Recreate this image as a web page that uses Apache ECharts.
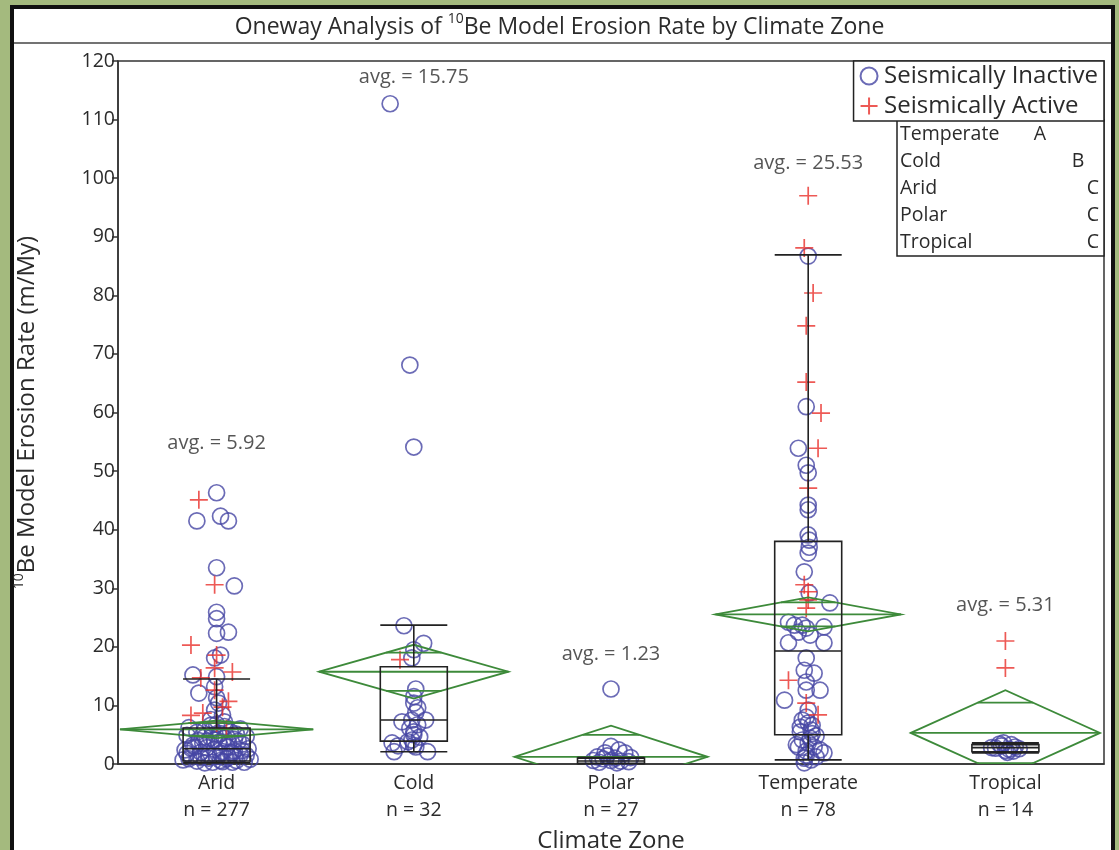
<!DOCTYPE html>
<html>
<head>
<meta charset="utf-8">
<script src="https://cdn.jsdelivr.net/npm/echarts@6/dist/echarts.min.js"></script>
<style>
  html, body { margin: 0; padding: 0; background: #a4ba7e; }
  #chart { width: 1119px; height: 850px; }
</style>
</head>
<body>
<div id="chart"></div>
<script>
const zones = ['Arid', 'Cold', 'Polar', 'Temperate', 'Tropical']
const counts = [277, 32, 27, 78, 14]
const avgText = ['5.92', '15.75', '1.23', '25.53', '5.31']
const avgLabelY = [54.8, 117.3, 18.8, 102.6, 27.1]
const means = [5.92, 15.75, 1.23, 25.53, 5.31]
const ciHalf = [1.5, 4.6, 5.3, 2.9, 7.3]
const diamondHalfWidth = [0.49, 0.48, 0.49, 0.47, 0.48]
// [lower whisker, q1, median, q3, upper whisker]
const boxStats = [
  [0.2, 0.5, 2.6, 6.15, 14.5],
  [2.1, 3.9, 7.5, 16.6, 23.7],
  [0.05, 0.1, 0.5, 1.0, 1.1],
  [0.7, 5.0, 19.3, 38.0, 86.9],
  [1.9, 2.1, 2.8, 3.3, 3.6]
]
const letterRows = ['Temperate', 'Cold', 'Arid', 'Polar', 'Tropical']
const letters = ['A', 'B', 'C', 'C', 'C']

// points: [offset from zone centre, erosion rate]
const aridInactive = [
  [0.00, 46.3], [-0.10, 41.5], [0.02, 42.3], [0.06, 41.5], [0.00, 33.5], [0.09, 30.4],
  [0.00, 25.9], [0.00, 24.8], [0.06, 22.5], [0.00, 22.3], [0.02, 18.6], [-0.01, 18.1],
  [-0.12, 15.2], [0.00, 14.9], [-0.01, 13.2], [-0.09, 12.1], [0.00, 11.3], [0.01, 10.4],
  [-0.01, 9.2], [0.03, 8.4], [-0.03, 7.6], [0.04, 7.2], [0.00, 6.8], [-0.14, 6.2],
  [0.12, 6.0], [-0.06, 5.8], [0.07, 5.5], [0.02, 5.2], [-0.15, 4.9], [0.15, 4.7],
  [-0.03, 4.5], [0.09, 4.2], [-0.09, 4.0], [0.01, 3.7], [0.13, 3.4], [-0.12, 3.2],
  [0.05, 3.0], [-0.05, 2.8], [0.16, 2.6], [-0.16, 2.4], [0.09, 2.2], [-0.08, 2.0],
  [0.02, 1.8], [0.12, 1.6], [-0.13, 1.4], [0.06, 1.2], [-0.04, 1.0], [0.17, 0.8],
  [-0.17, 0.7], [0.10, 0.6], [-0.10, 0.5], [0.03, 0.4], [-0.02, 0.3], [0.14, 0.3],
  [-0.14, 0.9], [0.08, 1.9], [-0.11, 2.9], [0.11, 3.9], [-0.06, 4.6], [0.04, 6.4],
  [-0.02, 5.9], [0.01, 5.0], [-0.07, 3.5], [0.06, 3.6], [-0.01, 2.5], [0.03, 2.1],
  [-0.04, 1.6], [0.05, 0.9], [-0.08, 1.1], [0.00, 1.3], [0.07, 2.0], [-0.05, 3.9],
  [0.04, 4.4], [-0.10, 5.4], [0.10, 5.1], [-0.01, 4.1], [0.15, 1.5], [-0.15, 1.8],
  [0.13, 2.3], [-0.13, 2.7], [0.02, 0.6], [-0.06, 0.2], [0.08, 0.3], [-0.03, 6.6]
]
const aridActive = [
  [-0.09, 45.1], [-0.01, 30.6], [-0.13, 20.3], [0.00, 18.6], [-0.01, 16.4], [0.08, 15.7],
  [-0.08, 14.7], [-0.01, 12.6], [0.06, 10.7], [0.03, 9.7], [-0.07, 8.7], [-0.13, 8.3],
  [0.00, 7.0], [0.05, 6.0]
]
const coldInactive = [
  [-0.12, 112.7], [-0.02, 68.1], [0.00, 54.1], [-0.05, 23.6], [0.05, 20.6], [0.00, 19.5],
  [-0.01, 18.1], [0.01, 12.8], [0.00, 11.5], [0.00, 10.4], [0.02, 9.6], [-0.06, 7.2],
  [0.06, 7.5], [-0.01, 7.5], [0.02, 6.7], [0.00, 5.5], [0.00, 5.0], [-0.01, 4.1],
  [-0.03, 3.8], [-0.11, 3.6], [0.00, 3.2], [0.01, 2.9], [-0.10, 2.1], [0.07, 2.1],
  [-0.08, 3.1], [0.03, 4.6], [-0.02, 6.1], [0.01, 8.8]
]
const coldActive = [[-0.07, 17.8]]
const polarInactive = [
  [0.00, 12.8], [0.00, 3.0], [0.04, 2.4], [-0.03, 1.9], [0.07, 1.9], [-0.06, 0.3],
  [0.05, 0.5], [0.02, 1.0], [-0.09, 0.6], [0.09, 0.4], [-0.02, 1.4], [0.03, 0.2],
  [-0.04, 0.9], [0.10, 1.1], [0.00, 0.6], [-0.07, 1.2]
]
const polarActive = []
const temperateInactive = [
  [0.00, 86.7], [-0.01, 61.0], [-0.05, 53.9], [-0.01, 51.0], [0.00, 49.7], [0.00, 44.2],
  [0.00, 43.4], [0.00, 39.1], [0.005, 38.2], [0.005, 37.0], [0.00, 36.0], [-0.02, 32.8],
  [0.005, 29.2], [0.11, 27.5], [-0.10, 24.2], [-0.07, 23.7], [-0.03, 23.7], [-0.01, 23.2],
  [0.08, 23.4], [-0.05, 22.5], [0.01, 22.0], [-0.10, 20.7], [0.08, 20.7], [-0.01, 18.1],
  [-0.02, 16.0], [0.03, 15.5], [-0.01, 14.0], [0.06, 12.6], [-0.01, 12.6], [-0.12, 10.9],
  [-0.01, 8.0], [0.00, 7.0], [0.015, 5.8], [-0.03, 4.1], [0.00, 3.6], [-0.05, 2.9],
  [0.03, 2.9], [0.08, 1.9], [-0.01, 1.5], [-0.02, 0.2], [0.015, 0.7], [-0.04, 6.3],
  [0.04, 4.8], [-0.06, 3.3], [0.06, 2.4], [-0.02, 1.0], [0.02, 5.2], [-0.03, 7.5],
  [0.01, 4.4], [-0.01, 2.2], [0.04, 1.2], [-0.04, 5.5], [0.02, 6.6], [0.00, 9.2]
]
const temperateActive = [
  [0.00, 97.0], [-0.02, 88.1], [0.025, 80.4], [-0.01, 74.8], [-0.01, 65.2], [0.065, 59.9],
  [0.05, 53.9], [0.00, 47.1], [-0.02, 30.6], [0.00, 29.4], [0.00, 28.0], [-0.01, 26.6],
  [-0.10, 14.3], [-0.01, 10.4], [0.05, 8.4]
]
const tropicalInactive = [
  [-0.05, 2.7], [-0.02, 3.1], [0.02, 2.5], [0.05, 2.9], [0.00, 2.3], [-0.03, 3.4],
  [0.03, 3.3], [0.07, 2.6], [-0.07, 2.8], [0.01, 2.0], [-0.01, 3.6], [0.04, 2.2]
]
const tropicalActive = [[0.00, 21.0], [0.00, 16.4]]

const FONT = 'Open Sans'
const TEXT = '#2b2b2b'
const BLUE = '#4646a4'
const RED = '#e8302a'
const GREEN = '#3d8a3a'

const inactiveGroups = [aridInactive, coldInactive, polarInactive, temperateInactive, tropicalInactive]
const activeGroups = [aridActive, coldActive, polarActive, temperateActive, tropicalActive]
function place(groups) {
  const out = []
  groups.forEach((g, i) => g.forEach(p => out.push([i + p[0], p[1]])))
  return out
}

const chart = echarts.init(document.getElementById('chart'))

const letterX = { A: 1040, B: 1078, C: 1093 }
const tableItems = [{
  type: 'rect', shape: { x: 897, y: 120, width: 207, height: 136 },
  style: { fill: '#fff', stroke: '#222', lineWidth: 1.5 }
}]
letterRows.forEach((name, i) => {
  tableItems.push({
    type: 'text', x: 900, y: 134 + i * 27,
    style: { text: name, fontSize: 19.5, fontFamily: FONT, fill: TEXT, verticalAlign: 'middle' }
  })
  tableItems.push({
    type: 'text', x: letterX[letters[i]], y: 134 + i * 27,
    style: { text: letters[i], fontSize: 19.5, fontFamily: FONT, fill: TEXT, align: 'center', verticalAlign: 'middle' }
  })
})

const supRich = size => ({
  t: { fontSize: size, fontFamily: FONT, fontWeight: 'normal', color: TEXT, lineHeight: 30 },
  s: { fontSize: 14, fontFamily: FONT, fontWeight: 'normal', color: TEXT, lineHeight: 17, verticalAlign: 'top' }
})

chart.setOption({
  backgroundColor: '#a4ba7e',
  animation: false,
  textStyle: { fontFamily: FONT },
  title: {
    text: '{t|Oneway Analysis of }{s|10}{t|Be Model Erosion Rate by Climate Zone}',
    left: 'center',
    top: 12,
    padding: 0,
    textStyle: { fontWeight: 'normal', rich: supRich(23) }
  },
  graphic: [
    {
      type: 'rect', z: -10, silent: true,
      shape: { x: 12, y: 7, width: 1101, height: 860 },
      style: { fill: '#fff', stroke: '#111', lineWidth: 4 }
    },
    {
      type: 'line', z: -9, silent: true,
      shape: { x1: 14, y1: 43, x2: 1111, y2: 43 },
      style: { stroke: '#444', lineWidth: 1.5 }
    },
    { type: 'group', children: tableItems }
  ],
  legend: {
    orient: 'vertical',
    right: 15,
    top: 61,
    padding: [1, 6, 1, 6],
    itemGap: 2,
    itemWidth: 20,
    itemHeight: 17,
    borderColor: '#222',
    borderWidth: 1.5,
    backgroundColor: '#fff',
    textStyle: { fontSize: 24, fontFamily: FONT, color: TEXT, lineHeight: 28 },
    data: ['Seismically Inactive', 'Seismically Active']
  },
  grid: {
    left: 118, right: 15, top: 61, bottom: 86,
    outerBoundsMode: 'none',
    containLabel: false,
    show: true, borderColor: '#333', borderWidth: 1.5, backgroundColor: '#fff'
  },
  xAxis: [
    {
      type: 'category',
      data: zones,
      axisLine: { onZero: false, lineStyle: { color: '#333', width: 1.5 } },
      axisTick: { show: false },
      axisLabel: {
        margin: 6,
        fontSize: 19.5,
        lineHeight: 27,
        color: TEXT,
        formatter: (v, i) => v + '\nn = ' + counts[i]
      },
      name: 'Climate Zone',
      nameLocation: 'middle',
      nameGap: 61,
      nameTextStyle: { fontSize: 24, color: TEXT }
    },
    { type: 'value', min: -0.5, max: 4.5, show: false }
  ],
  yAxis: {
    type: 'value',
    min: 0, max: 120, interval: 10,
    axisLine: { show: true, onZero: false, lineStyle: { color: '#333', width: 1.5 } },
    axisTick: { show: true, length: 6, lineStyle: { color: '#333', width: 1.5 } },
    splitLine: { show: false },
    axisLabel: { fontSize: 19.5, color: TEXT, margin: 3 },
    name: '{s|10}{t|Be Model Erosion Rate (m/My)}',
    nameLocation: 'middle',
    nameGap: 76,
    nameTextStyle: { rich: supRich(24) }
  },
  series: [
    {
      name: 'Seismically Inactive',
      type: 'scatter',
      xAxisIndex: 1,
      symbol: 'circle',
      symbolSize: 16,
      z: 2,
      itemStyle: { color: 'rgba(0,0,0,0)', borderColor: BLUE, borderWidth: 1.7 },
      data: place(inactiveGroups)
    },
    {
      name: 'Seismically Active',
      type: 'scatter',
      xAxisIndex: 1,
      symbol: 'path://M0,5L10,5M5,0L5,10',
      symbolSize: 18,
      z: 3,
      itemStyle: { color: 'rgba(0,0,0,0)', borderColor: RED, borderWidth: 1.7 },
      data: place(activeGroups)
    },
    {
      type: 'custom',
      xAxisIndex: 1,
      clip: true,
      z: 4,
      silent: true,
      data: zones.map((z, i) => [i, means[i], ciHalf[i], diamondHalfWidth[i]]),
      renderItem(params, api) {
        const c = api.value(0)
        const m = api.value(1)
        const h = api.value(2)
        const w = api.value(3)
        const p = (x, y) => api.coord([x, y])
        const k = h / Math.SQRT2
        const f = w * (1 - 1 / Math.SQRT2)
        const style = { stroke: GREEN, lineWidth: 1.8, fill: 'none' }
        const line = (a, b) => ({ type: 'line', shape: { x1: a[0], y1: a[1], x2: b[0], y2: b[1] }, style })
        return {
          type: 'group',
          children: [
            { type: 'polygon', shape: { points: [p(c - w, m), p(c, m + h), p(c + w, m), p(c, m - h)] }, style },
            line(p(c - w, m), p(c + w, m)),
            line(p(c - f, m + k), p(c + f, m + k)),
            line(p(c - f, m - k), p(c + f, m - k))
          ]
        }
      }
    },
    {
      type: 'boxplot',
      z: 5,
      silent: true,
      boxWidth: [67, 67],
      itemStyle: { color: 'rgba(0,0,0,0)', borderColor: '#222', borderWidth: 1.6 },
      data: boxStats
    },
    {
      type: 'scatter',
      xAxisIndex: 1,
      symbol: 'circle',
      symbolSize: 1,
      silent: true,
      itemStyle: { color: 'rgba(0,0,0,0)' },
      label: {
        show: true,
        position: 'inside',
        fontSize: 20,
        color: TEXT,
        formatter: p => 'avg. = ' + avgText[p.dataIndex]
      },
      data: avgLabelY.map((y, i) => [i, y])
    }
  ]
})
</script>
</body>
</html>
